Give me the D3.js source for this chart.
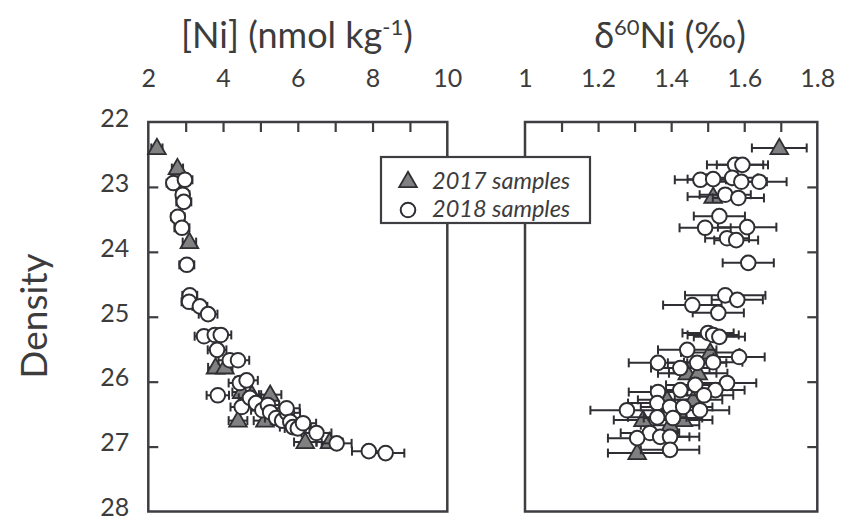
<!DOCTYPE html>
<html>
<head>
<meta charset="utf-8">
<script src="https://cdn.jsdelivr.net/npm/d3@7"></script>
<style>
  html, body { margin: 0; padding: 0; background: #fff; }
  svg { display: block; }
  text { font-family: Lato, "Open Sans", sans-serif; fill: #3c3c3c; }
</style>
</head>
<body>
<svg id="chart" width="842" height="521"></svg>
<script>
// [density, Ni (nmol/kg), ± error]
const ni2017 = [
  [22.40, 2.23, 0.15], [22.71, 2.78, 0.15], [23.85, 3.10, 0.18],
  [25.78, 3.80, 0.2], [25.78, 4.05, 0.2], [26.16, 4.50, 0.25],
  [26.20, 4.77, 0.25], [26.20, 5.26, 0.3], [26.60, 4.40, 0.25],
  [26.60, 5.12, 0.3], [26.93, 6.20, 0.3], [26.93, 6.85, 0.35]
];
const ni2018 = [
  [22.94, 2.67, 0.18], [22.89, 2.98, 0.2], [23.12, 2.92, 0.18], [23.23, 2.95, 0.2],
  [23.46, 2.79, 0.18], [23.63, 2.90, 0.2], [24.20, 3.03, 0.2], [24.67, 3.11, 0.2],
  [24.77, 3.09, 0.2], [24.84, 3.38, 0.2], [24.96, 3.60, 0.25], [25.30, 3.49, 0.25],
  [25.28, 3.78, 0.25], [25.28, 3.94, 0.28], [25.51, 3.84, 0.25], [25.67, 4.18, 0.3],
  [25.67, 4.40, 0.3], [26.02, 4.45, 0.3], [25.98, 4.63, 0.3], [26.21, 3.86, 0.3],
  [26.39, 4.50, 0.3], [26.25, 4.72, 0.3], [26.33, 4.88, 0.3], [26.44, 5.05, 0.3],
  [26.36, 5.20, 0.3], [26.47, 5.26, 0.3], [26.56, 5.42, 0.3], [26.60, 5.58, 0.3],
  [26.48, 5.71, 0.35], [26.41, 5.70, 0.35], [26.62, 5.80, 0.35], [26.70, 5.87, 0.35],
  [26.72, 6.00, 0.35], [26.64, 6.14, 0.35], [26.79, 6.50, 0.4], [26.95, 7.04, 0.4],
  [27.07, 7.90, 0.45], [27.10, 8.35, 0.5]
];
// [density, δ60Ni (‰), ± error]
const iso2017 = [
  [22.40, 1.696, 0.075], [23.15, 1.515, 0.07], [25.55, 1.507, 0.08],
  [25.87, 1.444, 0.08], [25.87, 1.474, 0.08], [26.28, 1.389, 0.08],
  [26.28, 1.460, 0.08], [26.59, 1.323, 0.08], [26.59, 1.433, 0.08],
  [26.67, 1.397, 0.08], [27.10, 1.307, 0.08]
];
const iso2018 = [
  [22.66, 1.575, 0.077], [22.66, 1.595, 0.07], [22.89, 1.480, 0.07], [22.88, 1.515, 0.07],
  [22.86, 1.567, 0.07], [22.92, 1.592, 0.07], [22.92, 1.641, 0.075], [23.12, 1.548, 0.07],
  [23.17, 1.584, 0.07], [23.45, 1.532, 0.07], [23.63, 1.493, 0.07], [23.62, 1.608, 0.08],
  [23.79, 1.553, 0.06], [23.82, 1.578, 0.06], [24.17, 1.611, 0.07], [24.82, 1.458, 0.08],
  [24.67, 1.548, 0.11], [24.74, 1.581, 0.07], [24.94, 1.529, 0.07], [25.25, 1.501, 0.07],
  [25.28, 1.515, 0.07], [25.31, 1.532, 0.07], [25.51, 1.444, 0.08], [25.62, 1.586, 0.07],
  [25.70, 1.515, 0.08], [25.71, 1.471, 0.08], [25.71, 1.364, 0.08], [25.79, 1.425, 0.08],
  [26.02, 1.553, 0.08], [26.05, 1.466, 0.08], [26.13, 1.425, 0.08], [26.13, 1.521, 0.08],
  [26.16, 1.364, 0.08], [26.21, 1.490, 0.08], [26.33, 1.362, 0.08], [26.39, 1.397, 0.08],
  [26.39, 1.433, 0.08], [26.44, 1.279, 0.10], [26.44, 1.479, 0.08], [26.55, 1.362, 0.08],
  [26.56, 1.405, 0.08], [26.79, 1.342, 0.08], [26.85, 1.370, 0.08], [26.85, 1.397, 0.08],
  [26.87, 1.307, 0.08], [27.05, 1.397, 0.08]
];

const densityTicks = [22, 23, 24, 25, 26, 27, 28];
const niLabelTicks = [2, 4, 6, 8, 10];
const niMinorTicks = [3, 4, 5, 6, 7, 8, 9];
const isoLabelTicks = [1, 1.2, 1.4, 1.6, 1.8];
const isoMinorTicks = [1.1, 1.2, 1.3, 1.4, 1.5, 1.6, 1.7];
const legendLabels = ["2017 samples", "2018 samples"];

const INK = "#2e2e33";
const FRAME = "#3d3d42";
const TRI_FILL = "#808080";
const TICK_FONT = 25;

const svg = d3.select("#chart");
const plotTop = 122, plotBottom = 511.5;
const y = d3.scaleLinear().domain([22, 28]).range([plotTop, plotBottom]);
const xNi = d3.scaleLinear().domain([2, 10]).range([148.3, 447.3]);
const xIso = d3.scaleLinear().domain([1, 1.8]).range([525, 817.3]);

const triangle = d3.symbol().type(d3.symbolTriangle).size(135);

function panel(x, minor, labels, fmt, yTickSide, s2017, s2018) {
  const g = svg.append("g");
  const [x0, x1] = x.range();

  // tick labels along the top
  const lab = g.append("g").attr("transform", `translate(0,${plotTop})`)
    .call(d3.axisTop(x).tickValues(labels).tickSize(0).tickPadding(35).tickFormat(fmt));
  lab.select(".domain").remove();
  lab.selectAll("text").attr("font-size", TICK_FONT).style("font-family", "Lato, sans-serif").attr("fill", "#3c3c3c");

  // inward tick marks on the top edge
  const tk = g.append("g").attr("transform", `translate(0,${plotTop})`)
    .call(d3.axisTop(x).tickValues(minor).tickSize(-10).tickFormat(""));
  tk.select(".domain").remove();
  tk.selectAll("line").attr("stroke", FRAME).attr("stroke-width", 2.2);

  // inward density ticks on one side
  const side = yTickSide === "left" ? x0 : x1;
  const ya = yTickSide === "left" ? d3.axisRight(y) : d3.axisLeft(y);
  const yt = g.append("g").attr("transform", `translate(${side},0)`)
    .call(ya.tickValues(densityTicks.slice(1, -1)).tickSize(10).tickFormat(""));
  yt.select(".domain").remove();
  yt.selectAll("line").attr("stroke", FRAME).attr("stroke-width", 2.2);

  // frame
  g.append("rect").attr("x", x0).attr("y", plotTop).attr("width", x1 - x0).attr("height", plotBottom - plotTop)
    .attr("fill", "none").attr("stroke", FRAME).attr("stroke-width", 2.5);

  function series(data, kind) {
    const s = g.append("g");
    const eb = s.selectAll("g.eb").data(data).join("g");
    eb.append("line")
      .attr("x1", d => x(d[1] - d[2])).attr("x2", d => x(d[1] + d[2]))
      .attr("y1", d => y(d[0])).attr("y2", d => y(d[0]));
    eb.append("line")
      .attr("x1", d => x(d[1] - d[2])).attr("x2", d => x(d[1] - d[2]))
      .attr("y1", d => y(d[0]) - 4.5).attr("y2", d => y(d[0]) + 4.5);
    eb.append("line")
      .attr("x1", d => x(d[1] + d[2])).attr("x2", d => x(d[1] + d[2]))
      .attr("y1", d => y(d[0]) - 4.5).attr("y2", d => y(d[0]) + 4.5);
    eb.selectAll("line").attr("stroke", INK).attr("stroke-width", 2);
    if (kind === "tri") {
      s.selectAll("path.m").data(data).join("path")
        .attr("transform", d => `translate(${x(d[1])},${y(d[0]) + 1})`)
        .attr("d", triangle).attr("fill", TRI_FILL).attr("stroke", INK).attr("stroke-width", 1.8);
    } else {
      s.selectAll("circle.m").data(data).join("circle")
        .attr("cx", d => x(d[1])).attr("cy", d => y(d[0])).attr("r", 7.3)
        .attr("fill", "#fff").attr("stroke", INK).attr("stroke-width", 2);
    }
  }
  series(s2017, "tri");
  series(s2018, "circ");
}

panel(xNi, niMinorTicks, niLabelTicks, d3.format("d"), "left", ni2017, ni2018);
panel(xIso, isoMinorTicks, isoLabelTicks, v => v === 1 ? "1" : d3.format(".1f")(v), "right", iso2017, iso2018);

// density labels
const yl = svg.append("g").attr("transform", `translate(148.3,0)`)
  .call(d3.axisLeft(y).tickValues(densityTicks).tickSize(0).tickPadding(19).tickFormat(d3.format("d")));
yl.select(".domain").remove();
yl.selectAll("text").attr("font-size", TICK_FONT).attr("dy", "0.17em")
  .style("font-family", "Lato, sans-serif").attr("fill", "#3c3c3c");

// axis titles
const t1 = svg.append("text").attr("x", 297).attr("y", 48).attr("text-anchor", "middle").attr("font-size", 36);
t1.append("tspan").text("[Ni] (nmol kg");
t1.append("tspan").attr("dy", -13).attr("font-size", 22).text("-1");
t1.append("tspan").attr("dy", 13).text(")");

const t2 = svg.append("text").attr("x", 670).attr("y", 48).attr("text-anchor", "middle").attr("font-size", 36);
t2.append("tspan").text("δ");
t2.append("tspan").attr("dy", -13).attr("font-size", 22).text("60");
t2.append("tspan").attr("dy", 13).text("Ni (‰)");

svg.append("text").attr("transform", "translate(47,316) rotate(-90)")
  .attr("text-anchor", "middle").attr("font-size", 37).text("Density");

// legend
const lg = svg.append("g");
lg.append("rect").attr("x", 381).attr("y", 157).attr("width", 209).attr("height", 66)
  .attr("fill", "#fff").attr("stroke", FRAME).attr("stroke-width", 2.2);
lg.append("path").attr("transform", "translate(408,182)").attr("d", triangle)
  .attr("fill", TRI_FILL).attr("stroke", INK).attr("stroke-width", 1.8);
lg.append("circle").attr("cx", 408).attr("cy", 210).attr("r", 7.3)
  .attr("fill", "#fff").attr("stroke", INK).attr("stroke-width", 2);
lg.selectAll("text.l").data(legendLabels).join("text")
  .attr("x", 432).attr("y", (d, i) => 189 + i * 28)
  .attr("font-size", 23.5).attr("font-style", "italic").text(d => d);
</script>
</body>
</html>
